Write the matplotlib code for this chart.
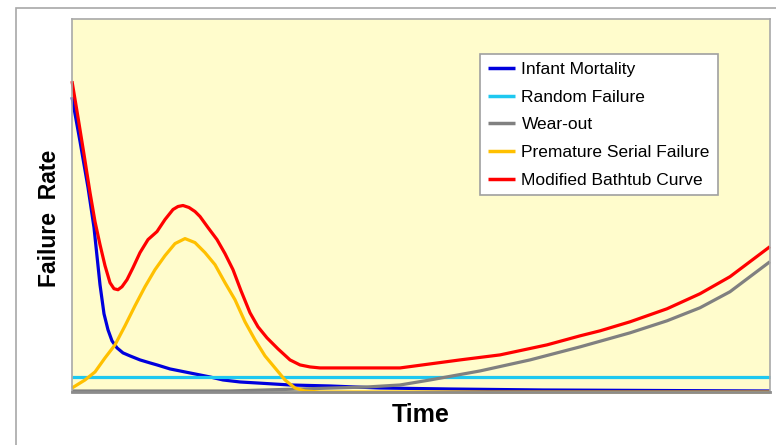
import matplotlib
matplotlib.use("Agg")
import matplotlib.pyplot as plt
import matplotlib.patches as patches

plt.rcParams['font.family'] = ['Liberation Sans', 'DejaVu Sans']

# curves (arbitrary units, no ticks: time 0-698, rate 0-372)
infant_x = [0, 8, 16, 22, 28, 32, 36, 40, 45, 51, 58, 68, 78, 85, 98, 118, 138, 151, 168, 185, 218, 258, 308, 378, 471, 698]
infant_y = [294, 250, 204, 164, 107, 78, 62, 51, 44, 39, 36, 32, 29, 27, 23, 19, 15, 12, 10, 9, 7, 6, 4, 3, 2, 1]

random_x = [0, 698]
random_y = [15, 15]

wear_x = [0, 158, 228, 295, 328, 358, 408, 458, 508, 558, 595, 628, 658, 698]
wear_y = [1, 1, 3, 5, 7, 12, 21, 32, 45, 59, 71, 84, 100, 130]

serial_x = [0, 13, 23, 33, 43, 53, 63, 73, 83, 93, 103, 113, 123, 133, 143, 153, 163, 173, 183, 193,
            203, 213, 223, 233, 248, 698]
serial_y = [4, 12, 20, 34, 47, 66, 86, 105, 122, 136, 148, 153, 149, 139, 127, 109, 92, 70, 52, 36,
            24, 12, 4, 1, 0, 0]

bathtub_x = [0, 6, 12, 18, 23, 28, 33, 38, 42, 46, 50, 55, 61, 68, 76, 85, 93, 101, 106, 111,
             117, 123, 128, 136, 145, 153, 161, 169, 178, 186, 195, 206, 218, 228, 238, 248, 288, 328, 358, 388,
             428, 475, 508, 528, 558, 595, 628, 658, 698]
bathtub_y = [310, 274, 237, 199, 170, 147, 126, 109, 103, 102, 105, 112, 124, 139, 152, 160, 172, 182, 185, 186,
             184, 180, 175, 164, 152, 138, 122, 101, 79, 65, 54, 43, 32, 27, 25, 24, 24, 24, 28, 32,
             37, 47, 56, 61, 70, 83, 98, 115, 145]

labels = ["Infant Mortality", "Random Failure", "Wear-out",
          "Premature Serial Failure", "Modified Bathtub Curve"]
colors = ["#0000DD", "#1EC8F0", "#808080", "#FFC000", "#FF0000"]

fig = plt.figure(figsize=(7.76, 4.45), dpi=100)
fig.patch.set_facecolor("white")

# outer frame (cut off at right and bottom)
fig.patches.append(patches.Rectangle((16/776, -0.1), 1.2, 1.1 - 8/445, transform=fig.transFigure,
                                     fill=False, edgecolor="#A8A8A8", linewidth=1.2))

ax = fig.add_axes([72/776, 53/445, 698/776, 373/445])
ax.set_facecolor("#FFFCCC")

series = [(infant_x, infant_y), (random_x, random_y), (wear_x, wear_y),
          (serial_x, serial_y), (bathtub_x, bathtub_y)]
for (xs, ys), lab, col in zip(series, labels, colors):
    ax.plot(xs, ys, color=col, lw=2.3, label=lab, clip_on=False,
            solid_joinstyle="round", solid_capstyle="butt")

ax.set_xlim(0, 698)
ax.set_ylim(0, 372)
ax.set_xticks([])
ax.set_yticks([])
for s in ax.spines.values():
    s.set_color("#A8A8A8")
    s.set_linewidth(1.2)
    s.set_zorder(3)
ax.spines["bottom"].set_color("#8C8C8C")
ax.spines["bottom"].set_linewidth(2)

leg = ax.legend(loc="upper right", bbox_to_anchor=(0.925, 0.906), fontsize=12.5,
                handlelength=1.6, handletextpad=0.35, labelspacing=0.72,
                borderpad=0.45, borderaxespad=0, fancybox=False, framealpha=1)
leg.get_frame().set_edgecolor("#A0A0A0")
leg.get_frame().set_linewidth(1.2)
for line in leg.get_lines():
    line.set_linewidth(2.5)

fig.text(421/776, 1 - 415/445, "Time", ha="center", va="center", fontsize=18, fontweight="bold")
fig.text(50/776, 1 - 218/445, "Failure  Rate", ha="center", va="center", rotation=90,
         fontsize=16.5, fontweight="bold")

plt.savefig("out.png", dpi=100)
